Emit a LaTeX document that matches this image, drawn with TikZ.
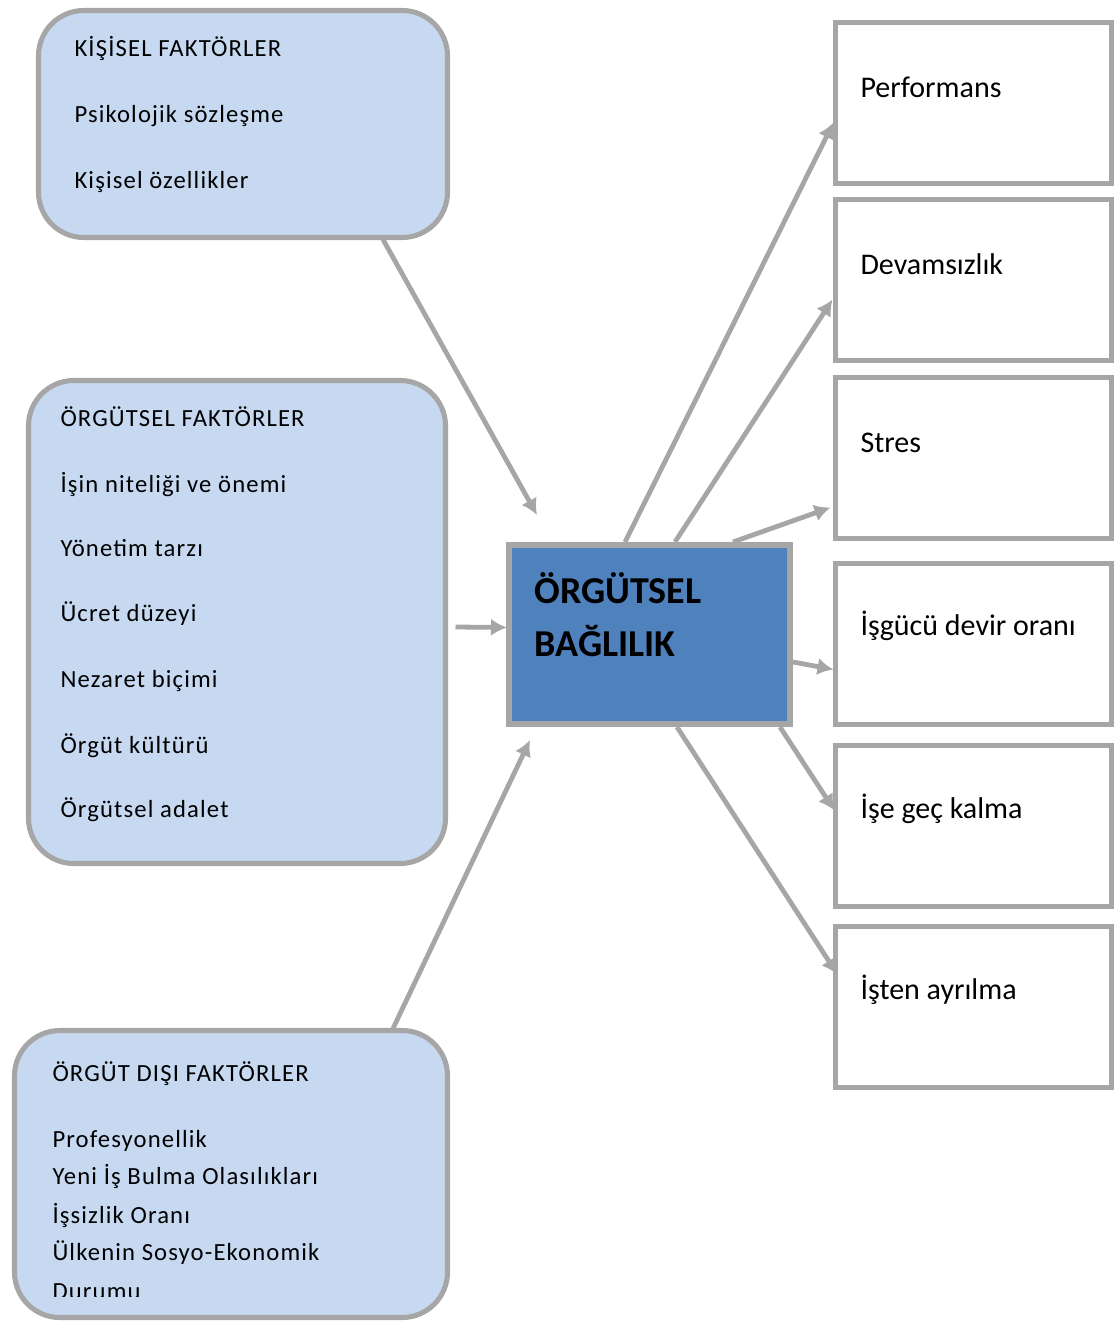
\documentclass[tikz,border=0pt]{standalone}
\usepackage{fontspec}
\setmainfont{Carlito}
\usetikzlibrary{arrows.meta}
\definecolor{factorblue}{HTML}{C6D9F1}
\definecolor{coreblue}{HTML}{4F81BD}
\definecolor{framegray}{HTML}{A6A6A6}

\begin{document}
\begin{tikzpicture}[x=0.75pt,y=-0.75pt,line width=3.8pt,
   factor/.style={draw=framegray,fill=factorblue,rounded corners=34pt,anchor=north west,inner sep=0pt,outer sep=0pt},
   effect/.style={draw=framegray,fill=white,anchor=north west,inner sep=0pt,outer sep=0pt,minimum width=276*0.75pt,minimum height=161*0.75pt},
   label/.style={anchor=base west,inner sep=0pt,font=\fontsize{18.5}{22}\selectfont\addfontfeatures{LetterSpace=4.6}},
   effectlabel/.style={anchor=base west,inner sep=0pt,font=\fontsize{22.5}{27}\selectfont},
   corelabel/.style={anchor=base west,inner sep=0pt,font=\fontsize{28.5}{34}\bfseries},
   link/.style={draw=framegray,line width=3.6pt,-{Latex[length=12pt,width=13pt]}}]
   \useasboundingbox (0,0) rectangle (1115,1324);
   \node[factor,minimum width=409*0.75pt,minimum height=227*0.75pt] (kisisel) at (38.5,10.5) {};
   \node[label] (k0) at (72,56) {KİŞİSEL FAKTÖRLER};
   \node[label] (k1) at (72,122) {Psikolojik sözleşme};
   \node[label] (k2) at (72,188) {Kişisel özellikler};
   \node[factor,minimum width=417*0.75pt,minimum height=483*0.75pt] (orgutsel) at (28.5,380.5) {};
   \node[label] (o0) at (58,426) {ÖRGÜTSEL FAKTÖRLER};
   \node[label] (o1) at (58,492) {İşin niteliği ve önemi};
   \node[label] (o2) at (58,556) {Yönetim tarzı};
   \node[label] (o3) at (58,621) {Ücret düzeyi};
   \node[label] (o4) at (58,687) {Nezaret biçimi};
   \node[label] (o5) at (58,753) {Örgüt kültürü};
   \node[label] (o6) at (58,817) {Örgütsel adalet};
   \node[factor,minimum width=433*0.75pt,minimum height=287*0.75pt] (disi) at (14.5,1030.5) {};
   \node[label] (d0) at (50,1081) {ÖRGÜT DIŞI FAKTÖRLER};
   \node[label] (d1) at (50,1147) {Profesyonellik};
   \node[label] (d2) at (50,1184) {Yeni İş Bulma Olasılıkları};
   \node[label] (d3) at (50,1223) {İşsizlik Oranı};
   \node[label] (d4) at (50,1260) {Ülkenin Sosyo-Ekonomik};
   \begin{scope}
     \clip (40,1270) rectangle (440,1296);
     \node[label] (d5) at (50,1299) {Durumu};
   \end{scope}
   \node[draw=framegray,fill=coreblue,line width=4.5pt,anchor=north west,inner sep=0pt,outer sep=0pt,minimum width=281*0.75pt,minimum height=179*0.75pt] (bag) at (509,545) {};
   \node[corelabel] (b0) at (532,603) {ÖRGÜTSEL};
   \node[corelabel] (b1) at (532,656) {BAĞLILIK};
   \node[effect] (perf) at (835.5,22.5) {};
   \node[effectlabel] at (858,97) {Performans};
   \node[effect] (devam) at (835.5,199.5) {};
   \node[effectlabel] at (858,274) {Devamsızlık};
   \node[effect] (stres) at (835.5,377.5) {};
   \node[effectlabel] at (858,452) {Stres};
   \node[effect] (isgucu) at (835.5,563.5) {};
   \node[effectlabel] at (858,635) {İşgücü devir oranı};
   \node[effect] (gec) at (835.5,745.5) {};
   \node[effectlabel] at (858,818) {İşe geç kalma};
   \node[effect] (ayrilma) at (835.5,926.5) {};
   \node[effectlabel] at (858,999) {İşten ayrılma};
   \draw[link] ([shift={(140,2)}]kisisel.south) -- ([shift={(28,-30)}]bag.north west);
   \draw[link] ([shift={(10,5)}]orgutsel.east) -- ([shift={(-2,-7)}]bag.west);
   \draw[link] ([shift={(162,-2)}]disi.north) -- ([shift={(21,16)}]bag.south west);
   \draw[link] ([shift={(116,-3)}]bag.north west) -- ([shift={(-2,100)}]perf.north west);
   \draw[link] ([shift={(166,-3)}]bag.north west) -- ([shift={(-3,100)}]devam.north west);
   \draw[link] ([shift={(224,-3)}]bag.north west) -- ([shift={(-5,130)}]stres.north west);
   \draw[link] ([shift={(3,117)}]bag.north east) -- ([shift={(-2,106)}]isgucu.north west);
   \draw[link] ([shift={(-10,3)}]bag.south east) -- ([shift={(-1,65)}]gec.north west);
   \draw[link] ([shift={(168,3)}]bag.south west) -- ([shift={(2,48)}]ayrilma.north west);
\end{tikzpicture}
\end{document}
